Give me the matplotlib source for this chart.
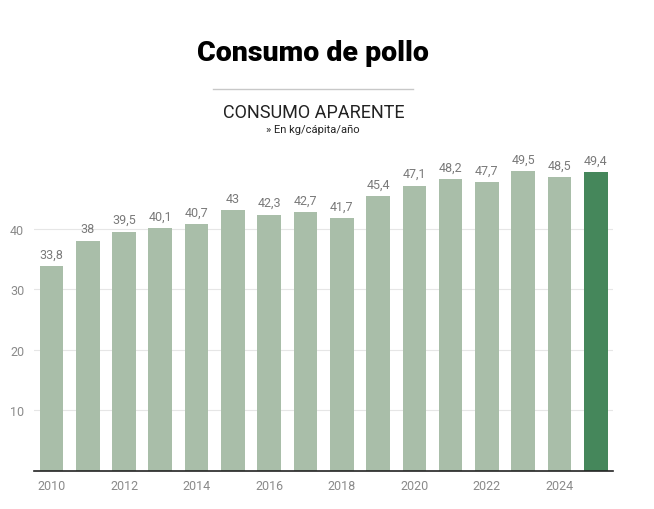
import matplotlib.pyplot as plt
from matplotlib.lines import Line2D

# --- data ---
years = [2010, 2011, 2012, 2013, 2014, 2015, 2016, 2017,
         2018, 2019, 2020, 2021, 2022, 2023, 2024, 2025]
consumo = [33.8, 38, 39.5, 40.1, 40.7, 43, 42.3, 42.7,
           41.7, 45.4, 47.1, 48.2, 47.7, 49.5, 48.5, 49.4]
tick_years = [2010, 2012, 2014, 2016, 2018, 2020, 2022, 2024]
y_ticks = [10, 20, 30, 40]

light_green = '#a9bea9'
dark_green = '#45875b'
grey_text = '#7a7a7a'

fig = plt.figure(figsize=(6.54, 5.10), dpi=100)
ax = fig.add_axes([0.052, 0.0753, 0.885, 0.6524])

colors = [light_green] * (len(years) - 1) + [dark_green]
bars = ax.bar(years, consumo, width=0.65, color=colors, zorder=2)

# value labels with decimal comma
for x, v in zip(years, consumo):
    label = f'{v:g}'.replace('.', ',')
    ax.text(x, v + 0.9, label, ha='center', va='bottom',
            fontsize=9, color=grey_text, family='Roboto')

ax.set_xlim(2009.52, 2025.47)
ax.set_ylim(0, 55)
ax.set_yticks(y_ticks)
ax.set_xticks(tick_years)
ax.set_xticklabels([str(y) for y in tick_years], family='Roboto')
ax.set_yticklabels([str(y) for y in y_ticks], family='Roboto')
ax.tick_params(axis='both', length=0, labelsize=9, labelcolor='#8a8a8a')
ax.tick_params(axis='x', pad=6)
ax.tick_params(axis='y', pad=7)
ax.grid(axis='y', color='#e6e6e6', linewidth=0.8, zorder=0)

for side in ['top', 'right', 'left']:
    ax.spines[side].set_visible(False)
ax.spines['bottom'].set_color('#222222')
ax.spines['bottom'].set_linewidth(1.2)

# --- titles ---
fig.text(0.479, 0.896, 'Consumo de pollo', ha='center', va='center',
         fontsize=20.5, fontweight='black', family='Roboto', color='black')
fig.add_artist(Line2D([213 / 654, 413 / 654], [1 - 90 / 510, 1 - 90 / 510],
                      color='#c8c8c8', linewidth=1))
fig.text(0.479, 0.779, 'CONSUMO APARENTE', ha='center', va='center',
         fontsize=13, family='Roboto', color='#222222')
fig.text(0.479, 0.745, '» En kg/cápita/año', ha='center', va='center',
         fontsize=8, family='Roboto', color='#222222')

plt.savefig('out.png', dpi=100)
